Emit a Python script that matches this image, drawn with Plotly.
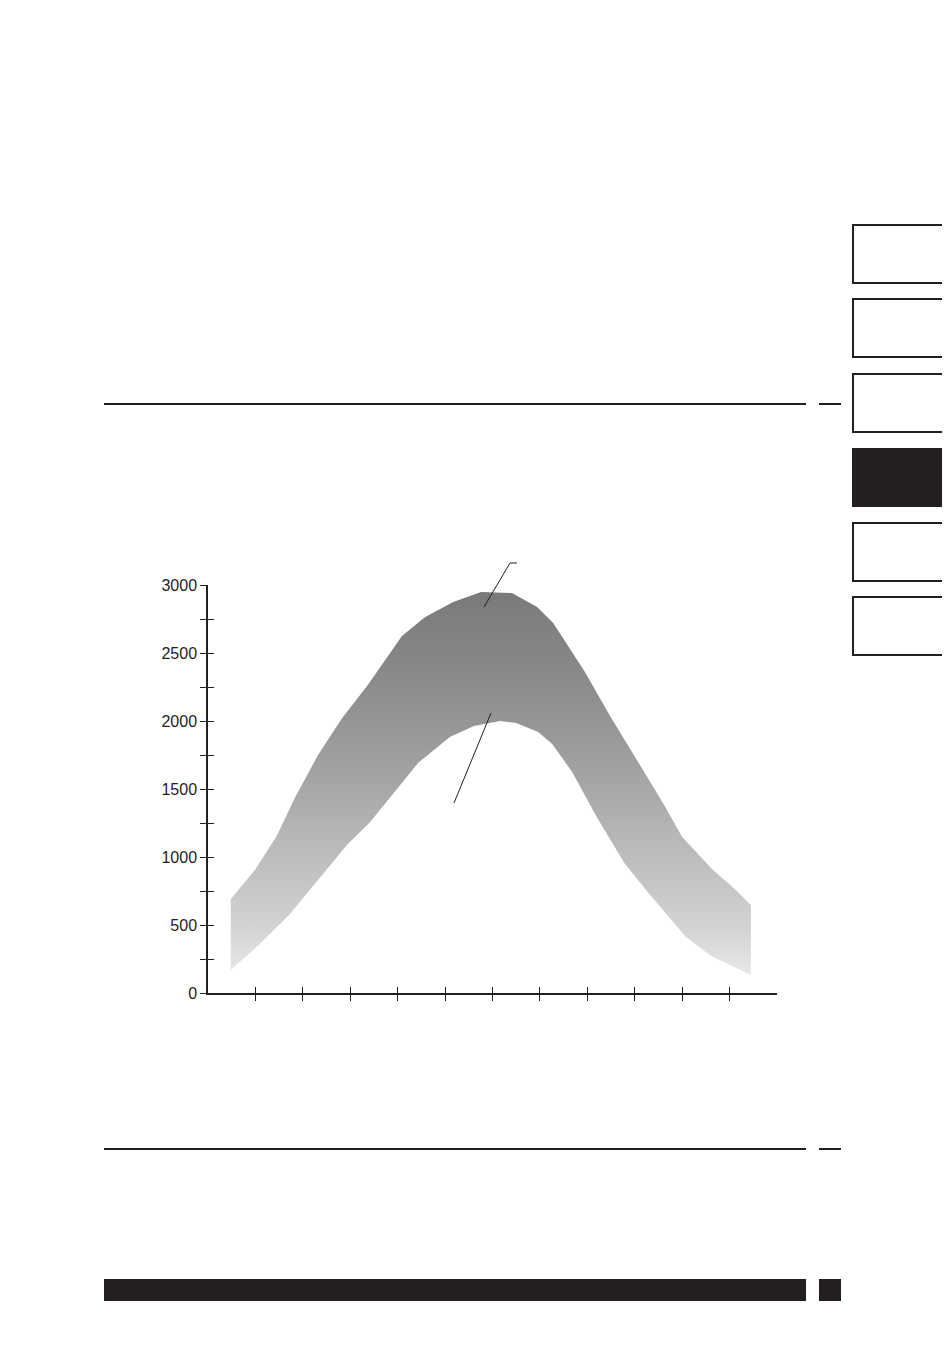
import plotly.graph_objects as go

# ---- data ----
upper_x = [0.48, 0.99, 1.45, 1.83, 2.32, 2.83, 3.37, 4.09, 4.58, 5.17, 5.76, 6.41, 6.94, 7.28, 7.95, 8.48, 9.07, 9.62, 10.0, 10.65, 11.11, 11.45]
upper_y = [691, 904, 1154, 1434, 1750, 2022, 2265, 2625, 2765, 2875, 2949, 2941, 2838, 2721, 2360, 2037, 1699, 1382, 1147, 904, 765, 647]
lower_x = [0.48, 1.07, 1.71, 2.32, 2.93, 3.42, 3.90, 4.43, 5.10, 5.61, 6.16, 6.50, 6.96, 7.26, 7.68, 8.21, 8.78, 9.29, 10.08, 10.61, 11.45]
lower_y = [169, 353, 574, 831, 1088, 1257, 1463, 1691, 1882, 1963, 2000, 1985, 1919, 1831, 1625, 1287, 956, 735, 412, 272, 132]

x_ticks = [1, 2, 3, 4, 5, 6, 7, 8, 9, 10, 11]
y_ticks = [0, 250, 500, 750, 1000, 1250, 1500, 1750, 2000, 2250, 2500, 2750, 3000]
y_tick_labels = ["0", "", "500", "", "1000", "", "1500", "", "2000", "", "2500", "", "3000"]

INK = "#231f20"

# ---- page geometry helpers (screen pixel -> paper) ----
OFF = 8  # default body margin of the page
L, R, T, B = 208, 777, 585, 993
def px(x):
    return (x - L) / (R - L)
def py(y):
    return (B - y) / (B - T)

band_x = upper_x + lower_x[::-1]
band_y = upper_y + lower_y[::-1]

fig = go.Figure()
fig.add_trace(go.Scatter(
    x=band_x, y=band_y, mode="lines", fill="toself",
    line=dict(width=0, color="rgba(0,0,0,0)"),
    fillgradient=dict(type="vertical", colorscale=[
        [0.0, "#e8e8e8"], [0.13, "#d2d2d2"], [0.31, "#bdbdbd"],
        [0.49, "#a7a7a7"], [0.66, "#959595"], [0.84, "#858585"], [1.0, "#7a7a7a"]]),
    hoverinfo="skip", showlegend=False))
fig.add_trace(go.Scatter(x=[None], y=[None], xaxis="x2", yaxis="y2",
                         showlegend=False, hoverinfo="skip"))

axis_common = dict(showgrid=False, zeroline=False, ticklen=6, tickwidth=1.3, tickcolor=INK)
fig.update_layout(
    width=950, height=1355,
    margin=dict(l=L - OFF, r=950 - (R - OFF), t=T - OFF, b=1355 - (B - OFF)),
    paper_bgcolor="white", plot_bgcolor="white",
    font=dict(family="Liberation Sans, Arial, sans-serif", size=16, color=INK),
    xaxis=dict(range=[0, 12], tickvals=x_ticks, showticklabels=False, ticks="outside",
               showline=True, linecolor=INK, linewidth=1.5, **axis_common),
    yaxis=dict(range=[0, 3000], tickvals=y_ticks, ticktext=y_tick_labels, ticks="outside",
               showline=True, linecolor=INK, linewidth=1.5, **axis_common),
    xaxis2=dict(range=[0, 12], overlaying="x", anchor="y", side="bottom", tickvals=x_ticks,
                showticklabels=False, ticks="inside", showline=False, **axis_common),
    yaxis2=dict(range=[0, 3000], overlaying="y", anchor="x", side="left", tickvals=y_ticks,
                showticklabels=False, ticks="inside", showline=False, **axis_common),
)

shapes = []
def line(x0, y0, x1, y1, w=2, c=INK):
    shapes.append(dict(type="line", xref="paper", yref="paper",
                       x0=px(x0), y0=py(y0), x1=px(x1), y1=py(y1),
                       line=dict(color=c, width=w)))
def rect(x0, y0, x1, y1, c=INK):
    shapes.append(dict(type="rect", xref="paper", yref="paper",
                       x0=px(x0), y0=py(y0), x1=px(x1), y1=py(y1),
                       fillcolor=c, line=dict(width=0)))

# horizontal rules
for yy in (404, 1149):
    line(104, yy, 806, yy)
    line(819, yy, 841, yy)
# bottom bar
rect(104, 1279, 806, 1301)
rect(819, 1279, 841, 1301)
# right-side tabs
tabs = [(225, 283, False), (299, 357, False), (374, 432, False),
        (448, 507, True), (523, 581, False), (597, 655, False)]
for top, bot, filled in tabs:
    if filled:
        rect(852, top, 942, bot)
    else:
        shapes.append(dict(type="path", xref="paper", yref="paper",
                           path=f"M {px(942)},{py(top)} L {px(853)},{py(top)} L {px(853)},{py(bot)} L {px(942)},{py(bot)}",
                           line=dict(color=INK, width=2)))
# leader lines
line(484, 607, 510, 563, w=1)
line(510, 563, 517, 563, w=1)
line(491, 713, 454, 803, w=1)

fig.update_layout(shapes=shapes)
fig.write_html("out.html")
